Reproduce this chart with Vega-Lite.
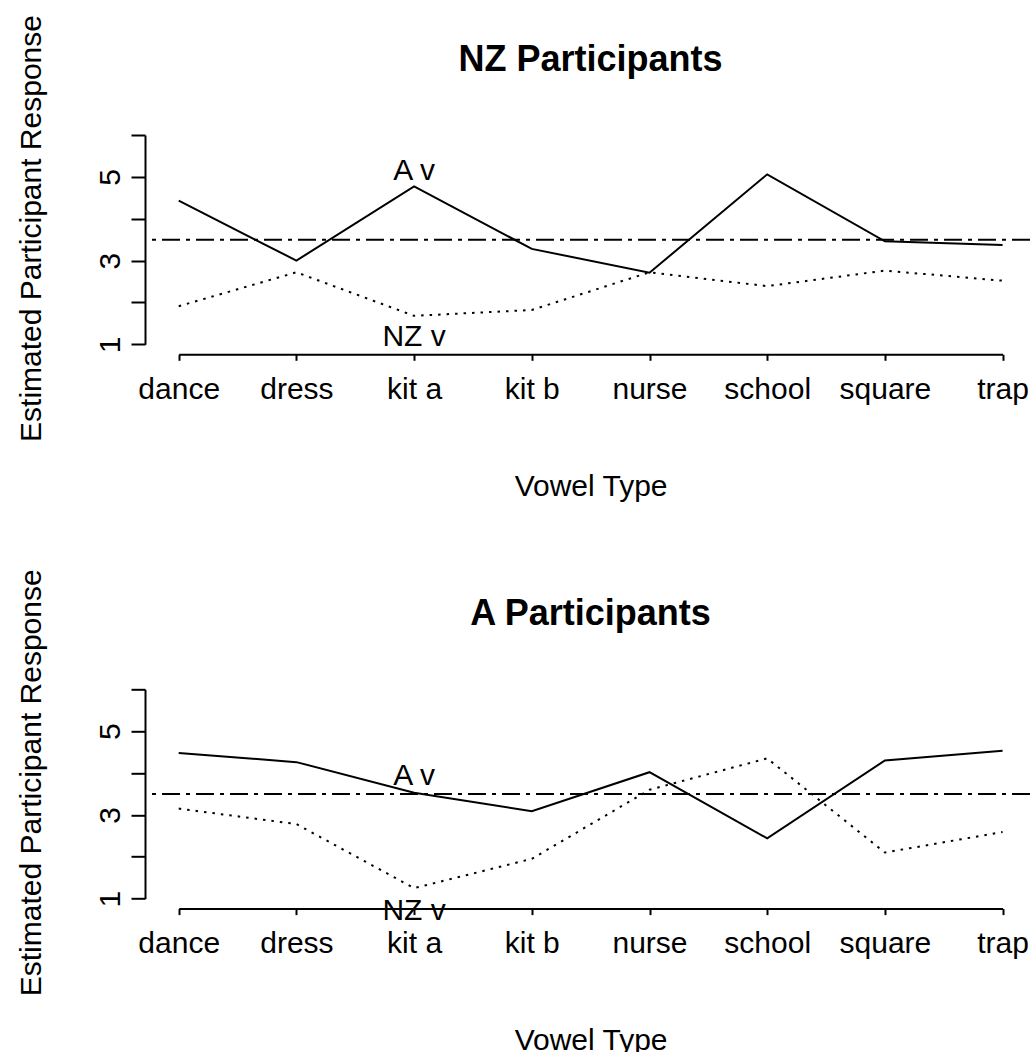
{
  "$schema": "https://vega.github.io/schema/vega-lite/v6.json",
  "autosize": {"type": "none"},
  "padding": {"left": 145, "top": 135, "right": 0, "bottom": 917},
  "background": "white",
  "spacing": 344.3,
  "bounds": "flush",
  "config": {
    "view": {"stroke": null},
    "font": "Liberation Sans",
    "axis": {"grid": false, "domainColor": "black", "tickColor": "black", "domainWidth": 2, "tickWidth": 2, "labelColor": "black", "titleColor": "black", "labelFont": "Liberation Sans", "titleFont": "Liberation Sans", "labelFontSize": 30, "titleFontSize": 30, "titleFontWeight": "normal"},
    "title": {"font": "Liberation Sans", "fontSize": 36, "fontWeight": "bold", "color": "black"}
  },
  "datasets": {
    "nz": [
      {"vowel": "dance", "series": "A", "value": 4.43},
      {"vowel": "dress", "series": "A", "value": 3.0},
      {"vowel": "kit a", "series": "A", "value": 4.77},
      {"vowel": "kit b", "series": "A", "value": 3.28},
      {"vowel": "nurse", "series": "A", "value": 2.71},
      {"vowel": "school", "series": "A", "value": 5.06},
      {"vowel": "square", "series": "A", "value": 3.46},
      {"vowel": "trap", "series": "A", "value": 3.37},
      {"vowel": "dance", "series": "NZ", "value": 1.91},
      {"vowel": "dress", "series": "NZ", "value": 2.72},
      {"vowel": "kit a", "series": "NZ", "value": 1.68},
      {"vowel": "kit b", "series": "NZ", "value": 1.82},
      {"vowel": "nurse", "series": "NZ", "value": 2.72},
      {"vowel": "school", "series": "NZ", "value": 2.39},
      {"vowel": "square", "series": "NZ", "value": 2.76},
      {"vowel": "trap", "series": "NZ", "value": 2.52}
    ],
    "nzlabels": [
      {"vowel": "kit a", "label": "A v", "value": 5.14},
      {"vowel": "kit a", "label": "NZ v", "value": 1.18}
    ],
    "a": [
      {"vowel": "dance", "series": "A", "value": 4.48},
      {"vowel": "dress", "series": "A", "value": 4.26},
      {"vowel": "kit a", "series": "A", "value": 3.53},
      {"vowel": "kit b", "series": "A", "value": 3.09},
      {"vowel": "nurse", "series": "A", "value": 4.02},
      {"vowel": "school", "series": "A", "value": 2.44},
      {"vowel": "square", "series": "A", "value": 4.30},
      {"vowel": "trap", "series": "A", "value": 4.53},
      {"vowel": "dance", "series": "NZ", "value": 3.15},
      {"vowel": "dress", "series": "NZ", "value": 2.78},
      {"vowel": "kit a", "series": "NZ", "value": 1.25},
      {"vowel": "kit b", "series": "NZ", "value": 1.95},
      {"vowel": "nurse", "series": "NZ", "value": 3.6},
      {"vowel": "school", "series": "NZ", "value": 4.35},
      {"vowel": "square", "series": "NZ", "value": 2.10},
      {"vowel": "trap", "series": "NZ", "value": 2.59}
    ],
    "alabels": [
      {"vowel": "kit a", "label": "A v", "value": 3.92},
      {"vowel": "kit a", "label": "NZ v", "value": 0.70}
    ]
  },
  "vconcat": [
    {
      "width": 885,
      "height": 209.3,
      "title": {"text": "NZ Participants", "anchor": "middle", "frame": "group", "offset": 67, "baseline": "alphabetic", "dx": 3, "dy": 159.6},
      "encoding": {
        "x": {"field": "vowel", "type": "ordinal", "sort": ["dance", "dress", "kit a", "kit b", "nurse", "school", "square", "trap"],
          "scale": {"type": "point", "padding": 0, "domain": ["dance", "dress", "kit a", "kit b", "nurse", "school", "square", "trap"], "range": [33.7, 857.6]},
          "axis": {"title": "Vowel Type", "offset": 10, "tickSize": 6, "labelAngle": 0, "labelBaseline": "alphabetic", "labelPadding": 38, "titleX": 445.6, "titleY": 140.7, "titleBaseline": "alphabetic", "titleAlign": "center"}},
        "y": {"field": "value", "type": "quantitative", "scale": {"domain": [1, 6], "nice": false, "zero": false},
          "axis": {"title": "Estimated Participant Response", "values": [1, 2, 3, 4, 5, 6], "labelExpr": "datum.value % 2 == 1 ? datum.label : ''", "tickSize": 14, "labelAngle": -90, "labelAlign": "center", "labelBaseline": "alphabetic", "labelPadding": 12, "titleAngle": -90, "titleX": -105, "titleY": 93, "titleAlign": "center", "titleBaseline": "alphabetic"}}
      },
      "layer": [
        {"data": {"name": "nz"}, "transform": [{"filter": "datum.series == 'A'"}], "mark": {"type": "line", "color": "black", "strokeWidth": 2}},
        {"data": {"name": "nz"}, "transform": [{"filter": "datum.series == 'NZ'"}], "mark": {"type": "line", "color": "black", "strokeWidth": 2, "strokeDash": [2.5, 6]}},
        {"data": {"values": [{"h": 3.5}]}, "mark": {"type": "rule", "color": "black", "strokeWidth": 2, "strokeDash": [18, 6, 4, 6]}, "encoding": {"x": null, "y": {"field": "h", "type": "quantitative"}}},
        {"data": {"name": "nzlabels"}, "mark": {"type": "text", "fontSize": 30, "color": "black", "font": "Liberation Sans", "baseline": "middle"}, "encoding": {"text": {"field": "label"}}}
      ]
    },
    {
      "width": 885,
      "height": 209.3,
      "title": {"text": "A Participants", "anchor": "middle", "frame": "group", "offset": 67, "baseline": "alphabetic", "dx": 3, "dy": 159.6},
      "encoding": {
        "x": {"field": "vowel", "type": "ordinal", "sort": ["dance", "dress", "kit a", "kit b", "nurse", "school", "square", "trap"],
          "scale": {"type": "point", "padding": 0, "domain": ["dance", "dress", "kit a", "kit b", "nurse", "school", "square", "trap"], "range": [33.7, 857.6]},
          "axis": {"title": "Vowel Type", "offset": 10, "tickSize": 6, "labelAngle": 0, "labelBaseline": "alphabetic", "labelPadding": 38, "titleX": 445.6, "titleY": 140.7, "titleBaseline": "alphabetic", "titleAlign": "center"}},
        "y": {"field": "value", "type": "quantitative", "scale": {"domain": [1, 6], "nice": false, "zero": false},
          "axis": {"title": "Estimated Participant Response", "values": [1, 2, 3, 4, 5, 6], "labelExpr": "datum.value % 2 == 1 ? datum.label : ''", "tickSize": 14, "labelAngle": -90, "labelAlign": "center", "labelBaseline": "alphabetic", "labelPadding": 12, "titleAngle": -90, "titleX": -105, "titleY": 93, "titleAlign": "center", "titleBaseline": "alphabetic"}}
      },
      "layer": [
        {"data": {"name": "a"}, "transform": [{"filter": "datum.series == 'A'"}], "mark": {"type": "line", "color": "black", "strokeWidth": 2}},
        {"data": {"name": "a"}, "transform": [{"filter": "datum.series == 'NZ'"}], "mark": {"type": "line", "color": "black", "strokeWidth": 2, "strokeDash": [2.5, 6]}},
        {"data": {"values": [{"h": 3.5}]}, "mark": {"type": "rule", "color": "black", "strokeWidth": 2, "strokeDash": [18, 6, 4, 6]}, "encoding": {"x": null, "y": {"field": "h", "type": "quantitative"}}},
        {"data": {"name": "alabels"}, "mark": {"type": "text", "fontSize": 30, "color": "black", "font": "Liberation Sans", "baseline": "middle"}, "encoding": {"text": {"field": "label"}}}
      ]
    }
  ]
}
